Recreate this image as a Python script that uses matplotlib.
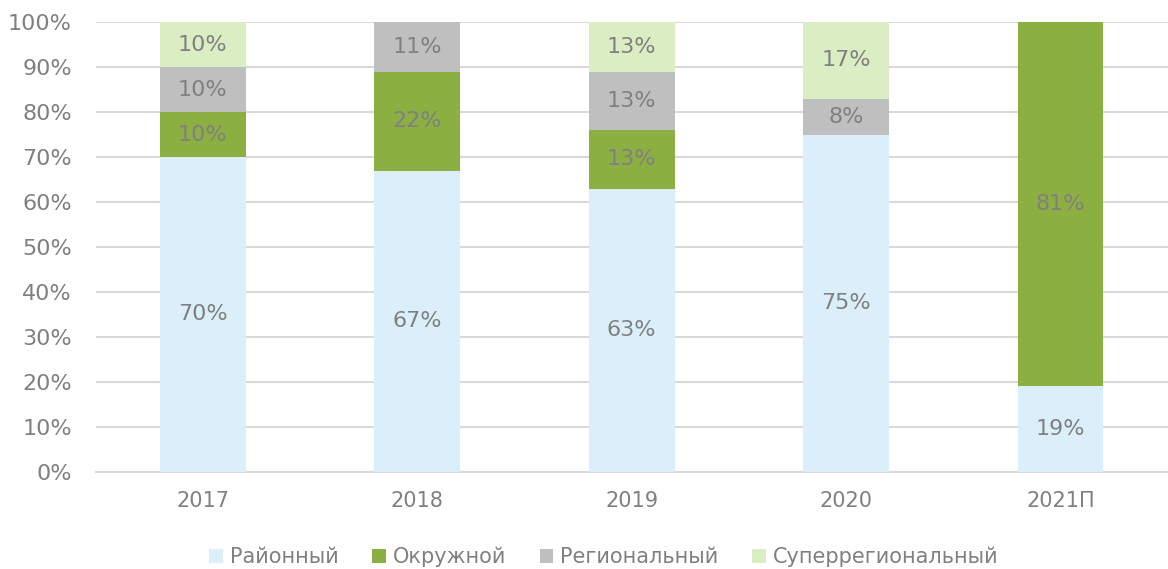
import matplotlib.pyplot as plt
import numpy as np

# Data (shares, %); 2019 adds up to 102 and is cut at 100
years = ["2017", "2018", "2019", "2020", "2021П"]
rayon = [70, 67, 63, 75, 19]
okrug = [10, 22, 13, 0, 81]
region = [10, 11, 13, 8, 0]
super_region = [10, 0, 13, 17, 0]

names = ["Районный", "Окружной", "Региональный", "Суперрегиональный"]
colors = ["#DAEFF9", "#8CAF41", "#BFBFBF", "#DBEDC3"]
txt = "#808080"

plt.rcParams['font.family'] = ['DejaVu Sans']

fig = plt.figure(figsize=(11.68, 5.69), dpi=100)
ax = fig.add_axes([0.0818, 0.1705, 0.918, 0.7908])

x = np.arange(len(years))
bottom = np.zeros(len(years))
for vals, name, col in zip([rayon, okrug, region, super_region], names, colors):
    vals = np.array(vals, dtype=float)
    ax.bar(x, vals, 0.4, bottom=bottom, color=col, label=name, zorder=3)
    for xi, b, v in zip(x, bottom, vals):
        if v > 0:
            top = min(b + v, 100)
            ax.text(xi, (b + top) / 2, "{:.0f}%".format(v), ha="center", va="center",
                    color=txt, fontsize=16, zorder=4)
    bottom += vals

ax.set_xlim(-0.5, 4.5)
ax.set_ylim(0, 100)
ax.set_yticks(np.arange(0, 101, 10))
ax.set_yticklabels(["{}%".format(v) for v in range(0, 101, 10)])
ax.set_xticks(x)
ax.set_xticklabels(years)
ax.tick_params(axis="both", length=0, colors=txt)
ax.tick_params(axis="y", pad=17, labelsize=16)
ax.tick_params(axis="x", pad=14, labelsize=15)
ax.grid(axis="y", color="#D9D9D9", linewidth=1.5, zorder=0)
for s in ["top", "right", "left"]:
    ax.spines[s].set_visible(False)
ax.spines["bottom"].set_color("#D9D9D9")
ax.spines["bottom"].set_linewidth(1.5)

leg = fig.legend(loc="lower center", bbox_to_anchor=(0.517, -0.03), ncol=4, frameon=False,
                 fontsize=15, handlelength=0.65, handleheight=0.65, handletextpad=0.35,
                 columnspacing=1.6, labelcolor=txt)

fig.savefig("out.png", dpi=100)
